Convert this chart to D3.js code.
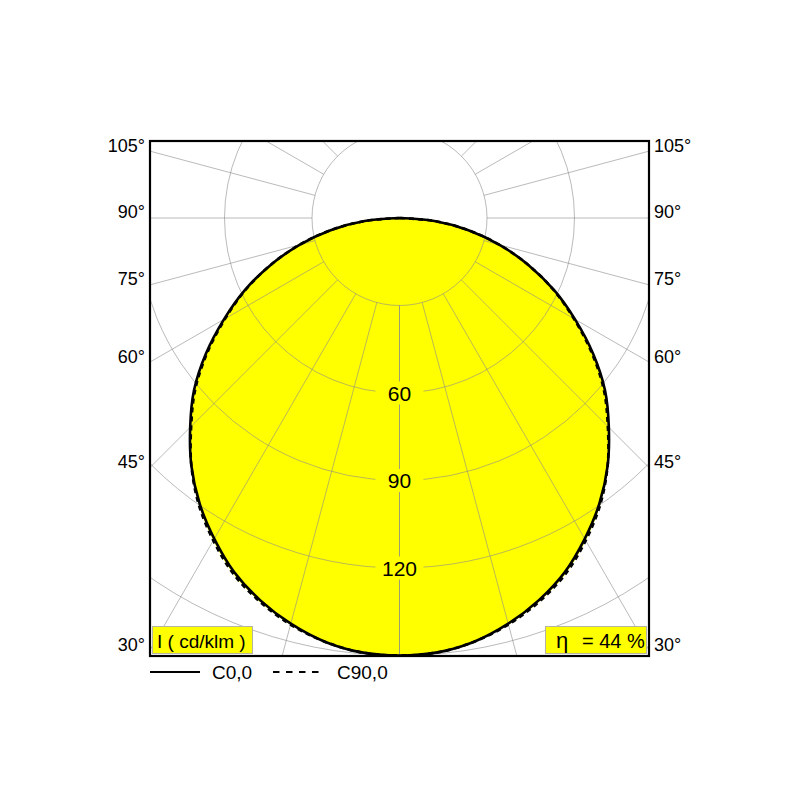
<!DOCTYPE html>
<html>
<head>
<meta charset="utf-8">
<script src="https://cdn.jsdelivr.net/npm/d3@7"></script>
<style>
  body { margin: 0; background: #fff; }
  svg { display: block; font-family: "Liberation Sans", Arial, sans-serif; }
</style>
</head>
<body>
<svg id="chart" width="800" height="800"></svg>
<script>
// ---- data ----
const gammaAngles = [0, 5, 10, 15, 20, 25, 30, 35, 40, 45, 50, 55, 60, 65, 70, 75, 80, 85, 90];
const c0Values    = [150, 149.5, 147.5, 144, 139.5, 134, 127, 119.5, 111, 101.5, 92, 81, 69.5, 58.5, 47, 35.5, 24, 12, 0];
const c90Values   = [150, 149.5, 147.5, 144.3, 140, 134.7, 127.7, 120, 111, 101, 91.4, 80.4, 69, 58.2, 47, 35.5, 24, 12, 0];
const ringValues  = [30, 60, 90, 120, 150, 180];
const ringLabels  = [60, 90, 120];
const radialAngles = [0, 15, 30, 45, 60, 75, 90, 105, 120, 135, 150, 165, 180];
const sideLabels  = [30, 45, 60, 75, 90, 105];
const seriesNames = ["C0,0", "C90,0"];
const unitLabel = "I ( cd/klm )";
const etaLabel = ["η", "= 44 %"];

// ---- layout ----
const svg = d3.select("#chart");
const box = { x0: 150, y0: 141, x1: 649, y1: 656 };
const cx = 399.5, cy = 218;
const r = d3.scaleLinear().domain([0, 30]).range([0, 87.5]);
const toRad = d => d * Math.PI / 180;

svg.append("defs").append("clipPath").attr("id", "boxclip")
  .append("rect").attr("x", box.x0).attr("y", box.y0)
  .attr("width", box.x1 - box.x0).attr("height", box.y1 - box.y0);

const plot = svg.append("g").attr("clip-path", "url(#boxclip)");
const g = plot.append("g").attr("transform", `translate(${cx},${cy})`);

function curvePoints(values) {
  const pts = [];
  for (let i = gammaAngles.length - 1; i >= 0; i--) pts.push([Math.PI + toRad(gammaAngles[i]), r(values[i])]);
  for (let i = 1; i < gammaAngles.length; i++) pts.push([Math.PI - toRad(gammaAngles[i]), r(values[i])]);
  return pts;
}
const radial = d3.lineRadial().angle(d => d[0]).radius(d => d[1]).curve(d3.curveCatmullRom);

// fill
[c0Values, c90Values].forEach(v => {
  g.append("path").attr("d", radial(curvePoints(v)) + "Z")
    .attr("fill", "#ffff00").attr("stroke", "none");
});

// grid rings
g.selectAll("circle.ring").data(ringValues).join("circle")
  .attr("class", "ring").attr("r", d => r(d))
  .attr("fill", "none").attr("stroke", "#8c8c8c").attr("stroke-width", 0.6);

// radial lines
radialAngles.forEach(a => {
  [1, -1].forEach(s => {
    const ang = Math.PI - s * toRad(a);
    const p0 = d3.pointRadial(ang, r(30));
    const p1 = d3.pointRadial(ang, 700);
    g.append("line").attr("x1", p0[0]).attr("y1", p0[1]).attr("x2", p1[0]).attr("y2", p1[1])
      .attr("stroke", "#8c8c8c").attr("stroke-width", 0.6);
  });
});

// ring labels
ringLabels.forEach(v => {
  g.append("rect").attr("x", -24).attr("y", r(v) - 11.5).attr("width", 48).attr("height", 23)
    .attr("fill", "#ffff00");
  g.append("text").attr("x", 0).attr("y", r(v)).attr("dy", "0.36em")
    .attr("text-anchor", "middle").attr("font-size", 21).attr("fill", "#000").text(v);
});

// curves
g.append("path").attr("d", radial(curvePoints(c0Values)))
  .attr("fill", "none").attr("stroke", "#000").attr("stroke-width", 2.6);
g.append("path").attr("d", radial(curvePoints(c90Values)))
  .attr("fill", "none").attr("stroke", "#000").attr("stroke-width", 2.6)
  .attr("stroke-dasharray", "5,4");

// frame
svg.append("rect").attr("x", box.x0).attr("y", box.y0)
  .attr("width", box.x1 - box.x0).attr("height", box.y1 - box.y0)
  .attr("fill", "none").attr("stroke", "#000").attr("stroke-width", 2.2);

// side angle labels
const half = cx - box.x0;
sideLabels.forEach(a => {
  const y = cy + half * Math.cos(toRad(a)) / Math.sin(toRad(a)) - 6;
  svg.append("text").attr("x", box.x0 - 5).attr("y", y).attr("dy", "0.36em")
    .attr("text-anchor", "end").attr("font-size", 18).text(a + "°");
  svg.append("text").attr("x", box.x1 + 5).attr("y", y).attr("dy", "0.36em")
    .attr("text-anchor", "start").attr("font-size", 18).text(a + "°");
});

// info boxes
svg.append("rect").attr("x", 152.5).attr("y", 626.5).attr("width", 100).attr("height", 27)
  .attr("fill", "#ffff00").attr("stroke", "#b4b4a0").attr("stroke-width", 1);
svg.append("text").attr("x", 157).attr("y", 647.5).attr("font-size", 19).text(unitLabel);

svg.append("rect").attr("x", 545.5).attr("y", 626.5).attr("width", 101).attr("height", 27)
  .attr("fill", "#ffff00").attr("stroke", "#b4b4a0").attr("stroke-width", 1);
const eta = svg.append("text").attr("y", 647.5).attr("font-size", 20);
eta.append("tspan").attr("x", 556).attr("font-size", 22).text(etaLabel[0]);
eta.append("tspan").attr("x", 582).text(etaLabel[1]);

// legend
svg.append("line").attr("x1", 150).attr("x2", 200).attr("y1", 672).attr("y2", 672)
  .attr("stroke", "#000").attr("stroke-width", 2);
svg.append("text").attr("x", 212).attr("y", 678.5).attr("font-size", 19).text(seriesNames[0]);
svg.append("line").attr("x1", 273).attr("x2", 320).attr("y1", 672).attr("y2", 672)
  .attr("stroke", "#000").attr("stroke-width", 2).attr("stroke-dasharray", "6.5,6.5");
svg.append("text").attr("x", 337).attr("y", 678.5).attr("font-size", 19).text(seriesNames[1]);
</script>
</body>
</html>
